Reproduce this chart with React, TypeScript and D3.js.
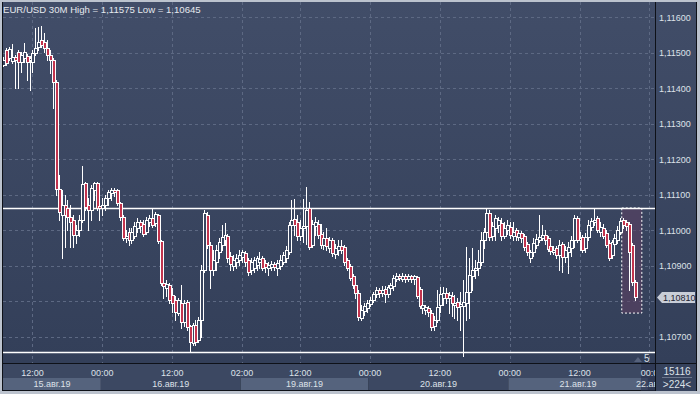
import React from 'react';
import * as d3 from 'd3';

const W = 700;
const H = 394;

const opens = [1.11465,1.11507,1.11485,1.11476,1.11487,1.11501,1.11473,1.11485,1.11490,1.11479,
 1.11473,1.11499,1.11515,1.11535,1.11530,1.11513,1.11493,1.11479,1.11417,1.11115,
 1.11042,1.11070,1.11062,1.11037,1.11028,1.10986,1.11000,1.11028,1.11132,1.11070,
 1.11056,1.11113,1.11132,1.11068,1.11062,1.11070,1.11090,1.11104,1.11113,1.11113,
 1.11076,1.11037,1.10977,1.10994,1.10972,1.10983,1.11006,1.11022,1.11017,1.10994,
 1.11022,1.11034,1.11020,1.11042,1.10969,1.10851,1.10837,1.10845,1.10817,1.10803,
 1.10766,1.10794,1.10741,1.10797,1.10730,1.10682,1.10732,1.10690,1.10746,1.10887,
 1.11042,1.10958,1.10887,1.10910,1.10938,1.10958,1.10972,1.10983,1.10927,1.10899,
 1.10910,1.10915,1.10924,1.10935,1.10915,1.10887,1.10893,1.10901,1.10910,1.10921,
 1.10907,1.10893,1.10896,1.10904,1.10893,1.10899,1.10910,1.10921,1.10938,1.11014,
 1.11031,1.11022,1.10983,1.11006,1.11011,1.11062,1.10958,1.11011,1.11017,1.10989,
 1.10958,1.10977,1.10949,1.10972,1.10932,1.10944,1.10955,1.10952,1.10915,1.10899,
 1.10870,1.10845,1.10822,1.10752,1.10772,1.10780,1.10792,1.10803,1.10820,1.10831,
 1.10822,1.10834,1.10820,1.10837,1.10842,1.10862,1.10870,1.10862,1.10870,1.10862,
 1.10870,1.10862,1.10868,1.10834,1.10780,1.10775,1.10780,1.10766,1.10730,1.10746,
 1.10789,1.10808,1.10822,1.10808,1.10814,1.10789,1.10797,1.10786,1.10786,1.10794,
 1.10825,1.10870,1.10887,1.10893,1.10910,1.10972,1.10994,1.11048,1.10983,1.11006,
 1.11014,1.11020,1.10983,1.11000,1.11008,1.10983,1.11000,1.10980,1.10992,1.10983,
 1.10961,1.10921,1.10938,1.10958,1.10972,1.10977,1.10986,1.10977,1.10955,1.10938,
 1.10949,1.10930,1.10961,1.10924,1.10938,1.10949,1.10972,1.11034,1.10972,1.10980,
 1.10949,1.10980,1.11008,1.11022,1.11034,1.10994,1.11006,1.10992,1.10963,1.10930,
 1.10961,1.10972,1.10994,1.11028,1.11022,1.11017,1.10958,1.10853];

const highs = [1.11487,1.11513,1.11515,1.11524,1.11493,1.11507,1.11501,1.11527,1.11496,1.11490,
 1.11507,1.11569,1.11572,1.11575,1.11555,1.11535,1.11507,1.11485,1.11423,1.11155,
 1.11113,1.11099,1.11084,1.11070,1.11042,1.11014,1.11042,1.11180,1.11135,1.11090,
 1.11127,1.11135,1.11135,1.11093,1.11090,1.11099,1.11113,1.11118,1.11118,1.11115,
 1.11079,1.11042,1.11000,1.11006,1.11006,1.11022,1.11034,1.11028,1.11028,1.11037,
 1.11042,1.11059,1.11051,1.11045,1.10972,1.10868,1.10859,1.10851,1.10837,1.10814,
 1.10808,1.10845,1.10803,1.10803,1.10732,1.10738,1.10746,1.10755,1.10901,1.11056,
 1.11051,1.10966,1.10944,1.10958,1.10977,1.11014,1.11020,1.10989,1.10938,1.10930,
 1.10932,1.10944,1.10944,1.10941,1.10921,1.10921,1.10924,1.10927,1.10938,1.10927,
 1.10915,1.10910,1.10913,1.10910,1.10915,1.10930,1.10938,1.10955,1.11022,1.11084,
 1.11087,1.11042,1.11028,1.11087,1.11121,1.11079,1.11028,1.11037,1.11028,1.11017,
 1.10994,1.11006,1.10980,1.10977,1.10961,1.10972,1.10972,1.10958,1.10921,1.10904,
 1.10876,1.10851,1.10831,1.10789,1.10794,1.10803,1.10811,1.10825,1.10839,1.10837,
 1.10842,1.10842,1.10845,1.10851,1.10873,1.10879,1.10876,1.10879,1.10876,1.10876,
 1.10873,1.10873,1.10870,1.10839,1.10797,1.10789,1.10786,1.10775,1.10758,1.10831,
 1.10839,1.10839,1.10837,1.10825,1.10825,1.10817,1.10808,1.10825,1.10859,1.10952,
 1.10921,1.10949,1.10915,1.10944,1.10994,1.11006,1.11062,1.11056,1.11022,1.11042,
 1.11037,1.11034,1.11022,1.11028,1.11022,1.11022,1.11006,1.11000,1.10997,1.10989,
 1.10966,1.10944,1.10977,1.10989,1.11042,1.11014,1.11000,1.10983,1.10961,1.10955,
 1.10955,1.10972,1.10966,1.10955,1.10966,1.10983,1.11042,1.11039,1.10994,1.10986,
 1.10992,1.11028,1.11034,1.11062,1.11039,1.11022,1.11017,1.11000,1.10972,1.10972,
 1.10989,1.11011,1.11034,1.11034,1.11028,1.11022,1.10963,1.10859];

const lows = [1.11462,1.11465,1.11479,1.11470,1.11400,1.11400,1.11445,1.11473,1.11423,1.11394,
 1.11445,1.11493,1.11507,1.11515,1.11501,1.11479,1.11442,1.11344,1.11099,1.11028,
 1.10921,1.10952,1.11000,1.10952,1.10952,1.10963,1.10983,1.11022,1.11056,1.11000,
 1.11028,1.11084,1.11056,1.11028,1.11042,1.11056,1.11070,1.11084,1.11096,1.11070,
 1.11028,1.10972,1.10966,1.10958,1.10963,1.10977,1.10994,1.10994,1.10983,1.10989,
 1.11011,1.11008,1.11011,1.10963,1.10845,1.10808,1.10814,1.10794,1.10769,1.10746,
 1.10761,1.10724,1.10730,1.10718,1.10656,1.10676,1.10676,1.10685,1.10699,1.10882,
 1.10949,1.10837,1.10873,1.10887,1.10921,1.10944,1.10958,1.10910,1.10887,1.10887,
 1.10893,1.10901,1.10910,1.10899,1.10873,1.10876,1.10882,1.10887,1.10893,1.10887,
 1.10882,1.10873,1.10887,1.10887,1.10873,1.10890,1.10904,1.10910,1.10932,1.11000,
 1.10986,1.10972,1.10972,1.10966,1.10961,1.10946,1.10952,1.10986,1.10977,1.10949,
 1.10946,1.10944,1.10938,1.10927,1.10921,1.10930,1.10935,1.10901,1.10887,1.10859,
 1.10837,1.10808,1.10746,1.10746,1.10761,1.10769,1.10786,1.10797,1.10811,1.10811,
 1.10814,1.10797,1.10811,1.10825,1.10831,1.10856,1.10859,1.10856,1.10853,1.10856,
 1.10853,1.10848,1.10808,1.10780,1.10766,1.10763,1.10758,1.10718,1.10718,1.10741,
 1.10769,1.10789,1.10794,1.10766,1.10758,1.10752,1.10746,1.10718,1.10645,1.10746,
 1.10752,1.10831,1.10865,1.10873,1.10901,1.10949,1.10972,1.10972,1.10972,1.10972,
 1.10994,1.10972,1.10977,1.10989,1.10977,1.10972,1.10972,1.10972,1.10966,1.10944,
 1.10930,1.10910,1.10927,1.10949,1.10966,1.10972,1.10961,1.10941,1.10932,1.10932,
 1.10921,1.10887,1.10882,1.10910,1.10879,1.10927,1.10952,1.10966,1.10944,1.10938,
 1.10938,1.10972,1.11000,1.11014,1.10994,1.10983,1.10977,1.10952,1.10915,1.10921,
 1.10952,1.10963,1.10989,1.11006,1.11000,1.10831,1.10845,1.10803];

const closes = [1.11479,1.11470,1.11510,1.11487,1.11479,1.11473,1.11493,1.11501,1.11473,1.11485,
 1.11499,1.11513,1.11530,1.11521,1.11513,1.11493,1.11479,1.11417,1.11115,1.11051,
 1.11070,1.11042,1.11037,1.11022,1.10986,1.11000,1.11028,1.11130,1.11065,1.11056,
 1.11118,1.11132,1.11062,1.11062,1.11070,1.11090,1.11107,1.11113,1.11107,1.11076,
 1.11037,1.10977,1.10983,1.10972,1.10994,1.11011,1.11022,1.11011,1.10989,1.11028,
 1.11034,1.11014,1.11045,1.10969,1.10851,1.10842,1.10848,1.10803,1.10794,1.10769,
 1.10803,1.10741,1.10794,1.10727,1.10685,1.10732,1.10685,1.10746,1.10887,1.11048,
 1.10958,1.10887,1.10915,1.10944,1.10966,1.10980,1.10986,1.10921,1.10904,1.10915,
 1.10921,1.10930,1.10938,1.10910,1.10882,1.10910,1.10915,1.10921,1.10918,1.10893,
 1.10896,1.10901,1.10904,1.10896,1.10907,1.10915,1.10930,1.10944,1.11014,1.11028,
 1.11014,1.10983,1.11006,1.11011,1.11056,1.10952,1.11017,1.11022,1.10986,1.10958,
 1.10977,1.10955,1.10972,1.10935,1.10949,1.10955,1.10944,1.10910,1.10893,1.10865,
 1.10845,1.10822,1.10755,1.10775,1.10786,1.10794,1.10803,1.10820,1.10831,1.10822,
 1.10831,1.10820,1.10839,1.10845,1.10865,1.10870,1.10865,1.10870,1.10862,1.10870,
 1.10862,1.10870,1.10814,1.10786,1.10789,1.10783,1.10769,1.10727,1.10746,1.10783,
 1.10820,1.10822,1.10808,1.10817,1.10794,1.10794,1.10783,1.10792,1.10797,1.10825,
 1.10873,1.10887,1.10893,1.10910,1.10972,1.10994,1.11048,1.10980,1.11011,1.11034,
 1.11028,1.10983,1.11006,1.11014,1.10986,1.10994,1.10983,1.10992,1.10977,1.10952,
 1.10938,1.10938,1.10963,1.10975,1.10980,1.10986,1.10972,1.10946,1.10941,1.10944,
 1.10930,1.10958,1.10924,1.10944,1.10952,1.10972,1.11034,1.10972,1.10977,1.10944,
 1.10980,1.11014,1.11025,1.11028,1.11000,1.11008,1.10983,1.10958,1.10921,1.10966,
 1.10977,1.11000,1.11025,1.11014,1.11011,1.10938,1.10853,1.10810];

const priceTicks = [1.116, 1.115, 1.114, 1.113, 1.112, 1.111, 1.110, 1.109, 1.108, 1.107];
const timeTickIdx = [10, 34, 58, 82, 102, 126, 150, 174, 198, 222];
const timeTickLabels = ['12:00', '00:00', '12:00', '02:00', '12:00', '00:00', '12:00', '00:00', '12:00', '00:00'];
const dayLabels = ['15.авг.19', '16.авг.19', '19.авг.19', '20.авг.19', '21.авг.19', '22.авг.19'];
const dayStartIdx = [-0.2, 33.5, 81.5, 125.5, 173.5, 221.5, 240];
const levelLines = [1.11062, 1.10656];
const highlight = { from: 212.5, to: 219.4, top: 1.11062, bottom: 1.10766 };
const symbol = 'EUR/USD 30M';
const barsCount = '15116';
const visibleInfo = '>224<';

const PL = 3, PR = 655, PT = 2, PB = 363;

export default function App() {
  const x = d3.scaleLinear().domain([0, 222]).range([3.4, 649.4]);
  const y = d3.scaleLinear().domain([1.107, 1.116]).range([336.5, 17]);
  const fmt = (v: number) => v.toFixed(5).replace('.', ',');
  const last = closes[closes.length - 1];
  const hi = d3.max(highs) as number;
  const lo = d3.min(lows) as number;
  const font = "'Liberation Sans', Arial, sans-serif";
  const txt = '#dde1e8';

  return (
    <svg width={W} height={H} style={{ position: 'absolute', left: 0, top: 0, display: 'block' }} fontFamily={font}>
      <defs>
        <linearGradient id="bgGrad" x1="0" y1="0" x2="0" y2="1">
          <stop offset="0" stopColor="#414d68" />
          <stop offset="1" stopColor="#333f59" />
        </linearGradient>
        <clipPath id="plotClip">
          <rect x={PL} y={PT} width={PR - PL} height={PB - PT} />
        </clipPath>
        <clipPath id="axisClip">
          <rect x={PL} y={PB} width={PR - PL} height={H - PB} />
        </clipPath>
      </defs>
      <rect width={W} height={H} fill="#bcc3ce" />
      <rect x={2} y={2} width={695} height={389} fill="#0e1118" />
      <rect x={PL} y={PT} width={PR - PL} height={PB - PT} fill="url(#bgGrad)" />
      <rect x={656} y={PT} width={40} height={PB - PT} fill="url(#bgGrad)" />
      <rect x={PL} y={364} width={PR - PL} height={14} fill="#3c4862" />
      <rect x={656} y={364} width={40} height={27} fill="#36425c" />

      {dayLabels.map((d, i) => {
        const x0 = Math.max(PL, x(dayStartIdx[i]));
        const x1 = Math.min(PR, x(dayStartIdx[i + 1]));
        return (
          <rect key={'b' + i} x={x0} y={378} width={Math.max(0, x1 - x0)} height={12}
            fill={i % 2 === 0 ? '#55637d' : '#3c4862'} />
        );
      })}

      <g clipPath="url(#plotClip)">
        {priceTicks.map((p) => (
          <line key={'hg' + p} x1={PL} x2={PR} y1={Math.round(y(p)) + 0.5} y2={Math.round(y(p)) + 0.5}
            stroke="#5d6983" strokeDasharray="3 3" />
        ))}
        {timeTickIdx.map((t) => (
          <line key={'vg' + t} x1={Math.round(x(t)) + 0.5} x2={Math.round(x(t)) + 0.5} y1={PT} y2={PB}
            stroke="#5d6983" strokeDasharray="3 3" />
        ))}
        <rect x={x(highlight.from)} y={y(highlight.top)} width={x(highlight.to) - x(highlight.from)}
          height={y(highlight.bottom) - y(highlight.top)} fill="#5e3f62" fillOpacity={0.55}
          stroke="#ffffff" strokeDasharray="2 2" strokeWidth={1} />
        {levelLines.map((l) => (
          <line key={'lv' + l} x1={PL} x2={PR} y1={Math.round(y(l)) + 0.5} y2={Math.round(y(l)) + 0.5}
            stroke="#ffffff" strokeWidth={1.3} />
        ))}
        <g shapeRendering="crispEdges">
          {closes.map((c, i) => {
            const cx = Math.round(x(i)) + 0.5;
            return (
              <line key={'w' + i} x1={cx} x2={cx} y1={Math.round(y(highs[i]))} y2={Math.round(y(lows[i])) + 1}
                stroke="#ffffff" strokeWidth={1} />
            );
          })}
          {closes.map((c, i) => {
            const cx = Math.round(x(i));
            const o = opens[i];
            const yt = Math.round(y(Math.max(o, c)));
            const yb = Math.round(y(Math.min(o, c)));
            const bear = c < o;
            return (
              <rect key={'c' + i} x={cx - 1.5 + 0.5} y={yt + 0.5} width={3} height={Math.max(1, yb - yt)}
                fill={bear ? '#c2344e' : '#39455f'} stroke="#ffffff" strokeWidth={1} />
            );
          })}
        </g>
      </g>

      <text x={3} y={12.5} fontSize={9.6} fill="#e6e9ee">
        {`${symbol} High = ${fmt(hi)} Low = ${fmt(lo)}`}
      </text>

      {priceTicks.filter((p) => Math.abs(p - last) > 0.0002).map((p) => (
        <text key={'pl' + p} x={659} y={y(p) + 3.5} fontSize={9} fill={txt}>{fmt(p)}</text>
      ))}

      <polygon points={`657,${y(last)} 662,${y(last) - 5.5} 695,${y(last) - 5.5} 695,${y(last) + 5.5} 662,${y(last) + 5.5}`}
        fill="#c9ced8" />
      <text x={663} y={y(last) + 3.5} fontSize={9} fill="#1c2230">{fmt(last)}</text>

      <g clipPath="url(#axisClip)">
        <rect x={641} y={364} width={14} height={27} fill="#27304a" fillOpacity={0.55} />
        {timeTickIdx.map((t, i) => {
          const lastTick = i === timeTickIdx.length - 1;
          return (
            <text key={'tl' + t} x={x(t)} y={376} fontSize={9} fill={txt} textAnchor="middle">
              {lastTick ? timeTickLabels[i].slice(0, 4) : timeTickLabels[i]}
            </text>
          );
        })}
        {dayLabels.map((d, i) => {
          const x0 = Math.max(PL, x(dayStartIdx[i]));
          const x1 = Math.min(PR, x(dayStartIdx[i + 1]));
          const lastDay = i === dayLabels.length - 1;
          return (
            <text key={'dl' + i} x={lastDay ? 636 : (x0 + x1) / 2} y={387} fontSize={9} fill={txt}
              textAnchor={lastDay ? 'start' : 'middle'}>{lastDay ? d.slice(0, 5) : d}</text>
          );
        })}
      </g>

      <polygon points="634,362 638,357 642,362" fill="#56627c" />
      <text x={644} y={362} fontSize={10} fill={txt}>5</text>

      <text x={677} y={374.5} fontSize={10} fill={txt} textAnchor="middle">{barsCount}</text>
      <line x1={662} x2={692} y1={377.5} y2={377.5} stroke="#6b768c" />
      <text x={677} y={387.5} fontSize={10} fill={txt} textAnchor="middle">{visibleInfo}</text>
    </svg>
  );
}
